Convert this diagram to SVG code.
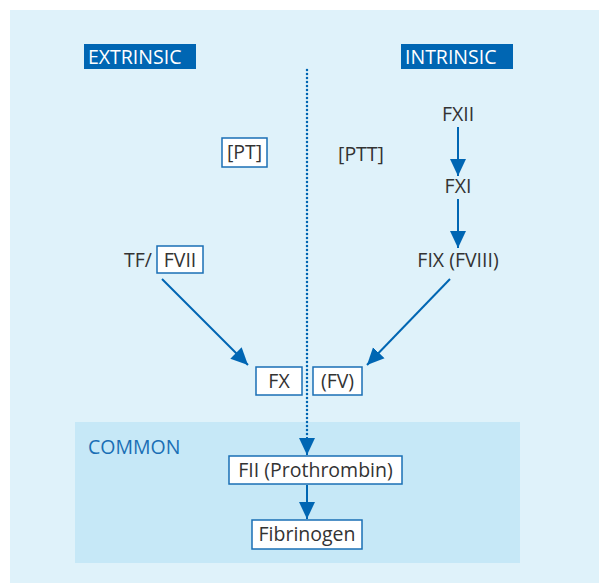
<svg xmlns="http://www.w3.org/2000/svg" width="599" height="583" viewBox="0 0 599 583">
<style>
.t{font-family:"Open Sans","Noto Sans","DejaVu Sans",sans-serif;font-size:19.5px;fill:#333333;}
.w{font-family:"Open Sans","Noto Sans","DejaVu Sans",sans-serif;font-size:19.5px;fill:#ffffff;}
.c{font-family:"Open Sans","Noto Sans","DejaVu Sans",sans-serif;font-size:19.5px;fill:#1a6fb5;}
.box{fill:#ffffff;stroke:#1a6fb5;stroke-width:1.5;}
.arr{stroke:#0066b3;stroke-width:2;fill:none;marker-end:url(#ah);}
</style>
<defs>
<marker id="ah" markerUnits="userSpaceOnUse" markerWidth="18" markerHeight="18" viewBox="0 0 18 18" refX="17" refY="9" orient="auto">
<path d="M0,1 L17,9 L0,17 Z" fill="#0066b3"/>
</marker>
</defs>
<rect x="10" y="10" width="589" height="573" fill="#dff2fa"/>
<rect x="75" y="422" width="445" height="141" fill="#c6e8f7"/>
<g id="extrinsic"><rect x="84" y="44" width="112" height="25" fill="#0066b3"/><text class="w" x="88" y="64">EXTRINSIC</text></g>
<g id="intrinsic"><rect x="401" y="44" width="112" height="25" fill="#0066b3"/><text class="w" x="405" y="64">INTRINSIC</text></g>
<g id="common"><text class="c" x="88" y="454">COMMON</text></g>
<g id="pt"><rect class="box" x="222" y="138" width="45" height="29"/><text class="t" x="244.5" y="159" text-anchor="middle">[PT]</text></g>
<g id="ptt"><text class="t" x="361" y="161" text-anchor="middle">[PTT]</text></g>
<g id="fvii"><text class="t" x="124" y="267">TF/</text><rect class="box" x="157" y="246" width="46" height="27"/><text class="t" x="180" y="267" text-anchor="middle">FVII</text></g>
<g id="fxii"><text class="t" x="458" y="121" text-anchor="middle">FXII</text></g>
<g id="fxi"><text class="t" x="458" y="193" text-anchor="middle">FXI</text></g>
<g id="fix"><text class="t" x="458" y="267" text-anchor="middle">FIX (FVIII)</text></g>
<g id="fx"><rect class="box" x="256" y="367" width="46" height="28"/><text class="t" x="279" y="388" text-anchor="middle">FX</text></g>
<g id="fv"><rect class="box" x="313" y="367" width="49" height="28"/><text class="t" x="337.5" y="388" text-anchor="middle">(FV)</text></g>
<g id="fii"><rect class="box" x="229" y="456" width="173" height="28"/><text class="t" x="315.5" y="477" text-anchor="middle">FII (Prothrombin)</text></g>
<g id="fibrinogen"><rect class="box" x="252" y="520" width="110" height="29"/><text class="t" x="307" y="541" text-anchor="middle">Fibrinogen</text></g>
<g id="connectors">
<line x1="307" y1="70" x2="307" y2="436" stroke="#0066b3" stroke-width="2.5" stroke-linecap="round" stroke-dasharray="0 4"/>
<line class="arr" x1="307" y1="437" x2="307" y2="455"/>
<line class="arr" x1="307" y1="485" x2="307" y2="519"/>
<line class="arr" x1="458" y1="127" x2="458" y2="176"/>
<line class="arr" x1="458" y1="199" x2="458" y2="248"/>
<line class="arr" x1="162" y1="279" x2="248" y2="365"/>
<line class="arr" x1="450" y1="279" x2="367" y2="365"/>
</g>
</svg>
